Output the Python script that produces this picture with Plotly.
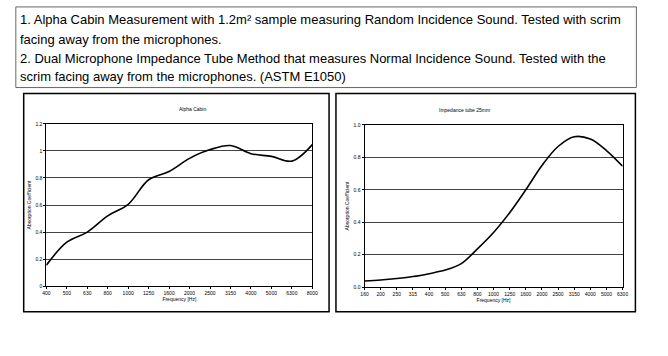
import plotly.graph_objects as go

# ---- data ----
freq_cabin = ["400", "500", "630", "800", "1000", "1250", "1600", "2000",
              "2500", "3150", "4000", "5000", "6300", "8000"]
alpha_cabin = [0.155, 0.325, 0.40, 0.52, 0.605, 0.787, 0.848, 0.945,
               1.01, 1.04, 0.98, 0.96, 0.925, 1.047]

freq_tube = ["160", "200", "250", "315", "400", "500", "630", "800", "1000",
             "1250", "1600", "2000", "2500", "3150", "4000", "5000", "6300"]
alpha_tube = [0.038, 0.044, 0.053, 0.065, 0.083, 0.105, 0.145, 0.236, 0.337,
              0.459, 0.60, 0.75, 0.867, 0.927, 0.913, 0.842, 0.745]

ticks_cabin = [0, 0.2, 0.4, 0.6, 0.8, 1, 1.2]
ticklabels_cabin = ["0", "0.2", "0.4", "0.6", "0.8", "1", "1.2"]
ticks_tube = [0, 0.2, 0.4, 0.6, 0.8, 1.0]
ticklabels_tube = ["0.0", "0.2", "0.4", "0.6", "0.8", "1.0"]

note_lines = [
    "1. Alpha Cabin Measurement with 1.2m² sample measuring Random Incidence Sound. Tested with scrim",
    "facing away from the microphones.",
    "2. Dual Microphone Impedance Tube Method that measures Normal Incidence Sound. Tested with the",
    "scrim facing away from the microphones. (ASTM E1050)",
]

W, H = 668, 356
def px(x): return x / W
def py(y): return 1 - y / H

fig = go.Figure()
fig.add_trace(go.Scatter(x=freq_cabin, y=alpha_cabin, mode="lines",
                         line=dict(color="black", width=1.6, shape="spline"),
                         xaxis="x", yaxis="y", showlegend=False))
fig.add_trace(go.Scatter(x=freq_tube, y=alpha_tube, mode="lines",
                         line=dict(color="black", width=1.6, shape="spline"),
                         xaxis="x2", yaxis="y2", showlegend=False))

tickfont = dict(family="Liberation Sans", size=5, color="black")
titlefont = dict(family="Liberation Sans", size=5, color="black")
common_x = dict(type="category", showline=True, linecolor="black", linewidth=1,
                mirror=True, ticks="outside", ticklen=2, tickcolor="black",
                tickfont=tickfont, tickangle=0, showgrid=False, dtick=1,
                zeroline=False, fixedrange=True)
common_y = dict(showline=True, linecolor="black", linewidth=1, mirror=True,
                ticks="outside", ticklen=2, tickcolor="black", tickfont=tickfont,
                showgrid=True, gridcolor="#444", gridwidth=1, zeroline=False)

fig.update_layout(
    width=W, height=H, margin=dict(l=0, r=0, t=0, b=0),
    paper_bgcolor="white", plot_bgcolor="white", showlegend=False,
    xaxis=dict(common_x, domain=[px(43), px(313)], range=[0, len(freq_cabin) - 1],
               anchor="y", title=dict(text="Frequency [Hz]", font=titlefont, standoff=2)),
    yaxis=dict(common_y, domain=[py(288), py(123)], range=[0, 1.2], anchor="x",
               tickvals=ticks_cabin, ticktext=ticklabels_cabin,
               title=dict(text="Absorption Coefficient", font=titlefont, standoff=3)),
    xaxis2=dict(common_x, domain=[px(366), px(628)], range=[0, len(freq_tube) - 1],
                anchor="y2", title=dict(text="Frequency [Hz]", font=titlefont, standoff=2)),
    yaxis2=dict(common_y, domain=[py(289), py(124)], range=[0, 1.0], anchor="x2",
                tickvals=ticks_tube, ticktext=ticklabels_tube,
                title=dict(text="Absorption Coefficient", font=titlefont, standoff=3)),
)

# text box and panel frames
fig.add_shape(type="rect", xref="paper", yref="paper", x0=px(12), x1=px(642),
              y0=py(86), y1=py(4), line=dict(color="#666", width=1))
fig.add_shape(type="rect", xref="paper", yref="paper", x0=px(20), x1=px(330),
              y0=py(314), y1=py(92), line=dict(color="black", width=1.5))
fig.add_shape(type="rect", xref="paper", yref="paper", x0=px(337), x1=px(641),
              y0=py(314), y1=py(92), line=dict(color="black", width=1.5))

for line, yy in zip(note_lines, [17, 37, 56, 75]):
    fig.add_annotation(text=line, xref="paper", yref="paper", x=px(14), y=py(yy),
                       xanchor="left", yanchor="middle", showarrow=False,
                       font=dict(family="Liberation Sans", size=13, color="black"))

fig.add_annotation(text="Alpha Cabin", xref="paper", yref="paper", x=px(176), y=py(103),
                   showarrow=False, font=titlefont)
fig.add_annotation(text="Impedance tube 25mm", xref="paper", yref="paper", x=px(495), y=py(104),
                   showarrow=False, font=titlefont)

fig.write_html("out.html")
